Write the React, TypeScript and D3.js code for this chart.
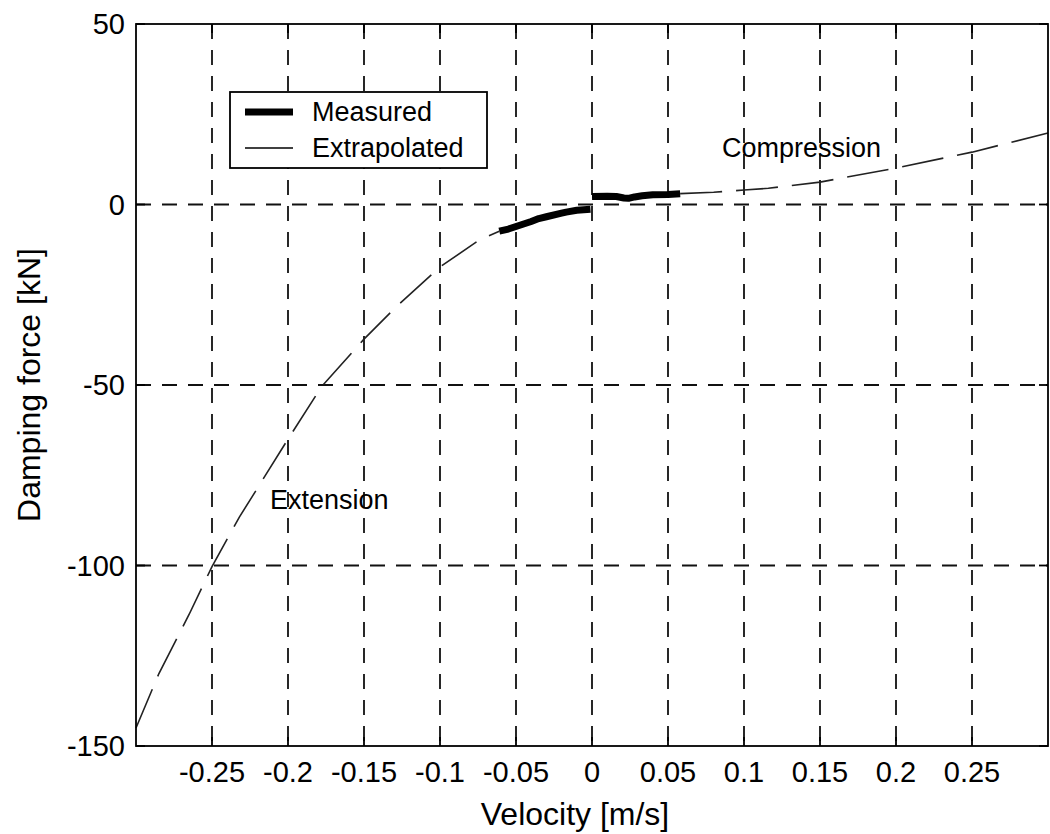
import React from "react";
import * as d3 from "d3";

const xTicks = [-0.25, -0.2, -0.15, -0.1, -0.05, 0, 0.05, 0.1, 0.15, 0.2, 0.25];
const xTickLabels = ["-0.25", "-0.2", "-0.15", "-0.1", "-0.05", "0", "0.05", "0.1", "0.15", "0.2", "0.25"];
const yTicks = [50, 0, -50, -100, -150];
const yTickLabels = ["50", "0", "-50", "-100", "-150"];

// Extrapolated curve (extension side)
const extLeftV = [-0.3, -0.285, -0.265, -0.25, -0.232, -0.2, -0.178, -0.15, -0.129, -0.1, -0.074, -0.061];
const extLeftF = [-145, -130, -113.5, -100.3, -86.6, -65, -50.5, -37.3, -28.4, -17.3, -9.8, -7.4];
// Extrapolated curve (compression side)
const extRightV = [0.058, 0.08, 0.1, 0.116, 0.15, 0.2, 0.25, 0.3];
const extRightF = [3.0, 3.4, 4.0, 4.5, 6.2, 10.1, 14.5, 19.8];
// Measured data
const measLeftV = [-0.061, -0.055, -0.05, -0.04, -0.035, -0.03, -0.02, -0.017, -0.01, -0.001];
const measLeftF = [-7.4, -6.8, -6.1, -4.7, -3.9, -3.4, -2.4, -2.1, -1.6, -1.3];
const measRightV = [0.0, 0.01, 0.016, 0.021, 0.024, 0.028, 0.033, 0.04, 0.05, 0.058];
const measRightF = [2.2, 2.3, 2.2, 1.8, 1.7, 2.1, 2.4, 2.7, 2.8, 3.0];

const W = 1050;
const H = 834;
const L = 136, R = 1048, T = 24, B = 746;
const FONT = "'Liberation Sans', Arial, Helvetica, sans-serif";

export default function App() {
  const x = d3.scaleLinear().domain([-0.3, 0.3]).range([L, R]);
  const y = d3.scaleLinear().domain([-150, 50]).range([B, T]);
  const line = d3
    .line<[number, number]>()
    .x((d) => x(d[0]))
    .y((d) => y(d[1]));
  const zip = (a: number[], b: number[]) => a.map((v, i) => [v, b[i]] as [number, number]);

  const gridColor = "#111";
  const tick = 9;

  return (
    <svg
      width={W}
      height={H}
      style={{ position: "absolute", left: 0, top: 0, background: "#fff" }}
      fontFamily={FONT}
    >
      <rect x={0} y={0} width={W} height={H} fill="#fff" />
      {/* grid */}
      {xTicks.map((t) => (
        <line key={"gx" + t} x1={x(t)} x2={x(t)} y1={T} y2={B} stroke={gridColor} strokeWidth={1.8} strokeDasharray="15,11" />
      ))}
      {yTicks
        .filter((t) => t !== 50 && t !== -150)
        .map((t) => (
          <line key={"gy" + t} x1={L} x2={R} y1={y(t)} y2={y(t)} stroke={gridColor} strokeWidth={1.8} strokeDasharray="15,11" />
        ))}
      {/* ticks */}
      {xTicks.map((t) => (
        <g key={"tx" + t}>
          <line x1={x(t)} x2={x(t)} y1={B} y2={B - tick} stroke="#000" strokeWidth={1.8} />
          <line x1={x(t)} x2={x(t)} y1={T} y2={T + tick} stroke="#000" strokeWidth={1.8} />
        </g>
      ))}
      {yTicks.map((t) => (
        <g key={"ty" + t}>
          <line x1={L} x2={L + tick} y1={y(t)} y2={y(t)} stroke="#000" strokeWidth={1.8} />
          <line x1={R} x2={R - tick} y1={y(t)} y2={y(t)} stroke="#000" strokeWidth={1.8} />
        </g>
      ))}
      {/* curves */}
      <path d={line(zip(extLeftV, extLeftF)) || ""} fill="none" stroke="#222" strokeWidth={1.6} strokeDasharray="42,14" />
      <path d={line(zip(extRightV, extRightF)) || ""} fill="none" stroke="#222" strokeWidth={1.6} strokeDasharray="42,14" />
      <path d={line(zip(measLeftV, measLeftF)) || ""} fill="none" stroke="#000" strokeWidth={7} strokeLinejoin="round" />
      <path d={line(zip(measRightV, measRightF)) || ""} fill="none" stroke="#000" strokeWidth={7} strokeLinejoin="round" />
      {/* frame */}
      <rect x={L} y={T} width={R - L} height={B - T} fill="none" stroke="#000" strokeWidth={1.8} />
      {/* legend */}
      <rect x={230} y={92} width={257} height={76} fill="#fff" stroke="#000" strokeWidth={1.8} />
      <line x1={245} x2={293} y1={112} y2={112} stroke="#000" strokeWidth={7} />
      <line x1={245} x2={293} y1={148} y2={148} stroke="#000" strokeWidth={1.4} />
      <text x={312} y={121} fontSize={27} fill="#000">Measured</text>
      <text x={312} y={157} fontSize={27} fill="#000">Extrapolated</text>
      {/* annotations */}
      <text x={722} y={157} fontSize={27} fill="#000">Compression</text>
      <text x={270} y={509} fontSize={27} fill="#000">Extension</text>
      {/* tick labels */}
      {xTicks.map((t, i) => (
        <text key={"lx" + t} x={x(t)} y={782} fontSize={29} textAnchor="middle" fill="#000">
          {xTickLabels[i]}
        </text>
      ))}
      {yTicks.map((t, i) => (
        <text key={"ly" + t} x={125} y={y(t) + 10} fontSize={29} textAnchor="end" fill="#000">
          {yTickLabels[i]}
        </text>
      ))}
      {/* axis labels */}
      <text x={575} y={825} fontSize={32} textAnchor="middle" fill="#000">Velocity [m/s]</text>
      <text transform={`translate(40,${(T + B) / 2}) rotate(-90)`} fontSize={32} textAnchor="middle" fill="#000">
        Damping force [kN]
      </text>
    </svg>
  );
}
